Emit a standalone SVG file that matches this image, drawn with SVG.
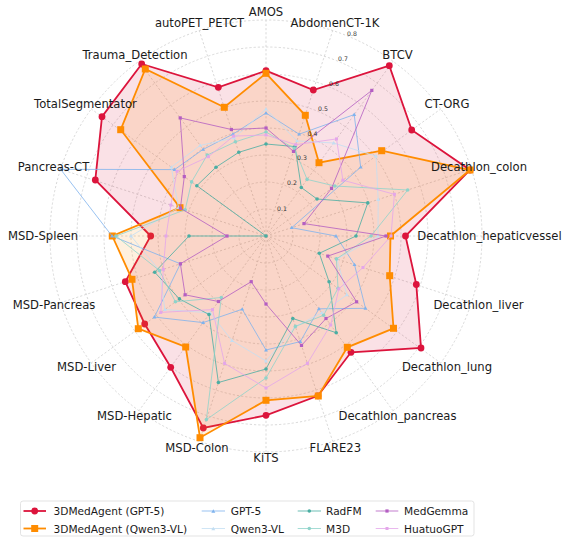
<svg xmlns="http://www.w3.org/2000/svg" width="563" height="540" viewBox="0 0 563 540">
<style>
.grid{fill:none;stroke:#cfcfcf;stroke-width:0.8;stroke-dasharray:2.2 2}
.ax{font-family:"DejaVu Sans",sans-serif;font-size:11.6px;fill:#1a1a1a;text-anchor:middle;dominant-baseline:central}
.tick{font-family:"DejaVu Sans",sans-serif;font-size:6.2px;fill:#333;text-anchor:middle;dominant-baseline:central}
.lg{font-family:"DejaVu Sans",sans-serif;font-size:10.6px;fill:#1a1a1a;dominant-baseline:central}
.main{stroke-width:1.8;stroke-linejoin:miter}
.minor{fill:none;stroke-width:1;stroke-opacity:0.8}
</style>
<defs>
<marker id="mRed" markerUnits="userSpaceOnUse" markerWidth="10" markerHeight="10" viewBox="0 0 10 10" refX="5" refY="5" overflow="visible"><circle cx="5" cy="5" r="3.4" fill="#DC143C"/></marker>
<marker id="mOr" markerUnits="userSpaceOnUse" markerWidth="10" markerHeight="10" viewBox="0 0 10 10" refX="5" refY="5" overflow="visible"><rect x="1.5" y="1.5" width="7" height="7" fill="#FF8C00"/></marker>
<marker id="mG5" markerUnits="userSpaceOnUse" markerWidth="10" markerHeight="10" viewBox="0 0 10 10" refX="5" refY="5" overflow="visible"><polygon points="5,3 7,6.4 3,6.4" fill="#7fb3ee"/></marker>
<marker id="mQw" markerUnits="userSpaceOnUse" markerWidth="10" markerHeight="10" viewBox="0 0 10 10" refX="5" refY="5" overflow="visible"><polygon points="5,3 7,6.4 3,6.4" fill="#c3def2"/></marker>
<marker id="mRad" markerUnits="userSpaceOnUse" markerWidth="10" markerHeight="10" viewBox="0 0 10 10" refX="5" refY="5" overflow="visible"><circle cx="5" cy="5" r="1.8" fill="#4aaea3"/></marker>
<marker id="mM3" markerUnits="userSpaceOnUse" markerWidth="10" markerHeight="10" viewBox="0 0 10 10" refX="5" refY="5" overflow="visible"><circle cx="5" cy="5" r="1.8" fill="#8fd3ca"/></marker>
<marker id="mMG" markerUnits="userSpaceOnUse" markerWidth="10" markerHeight="10" viewBox="0 0 10 10" refX="5" refY="5" overflow="visible"><rect x="3.4" y="3.4" width="3.2" height="3.2" fill="#b45ec2"/></marker>
<marker id="mHu" markerUnits="userSpaceOnUse" markerWidth="10" markerHeight="10" viewBox="0 0 10 10" refX="5" refY="5" overflow="visible"><rect x="3.5" y="3.5" width="3" height="3" fill="#e4a6ea"/></marker>
</defs>
<rect width="563" height="540" fill="#ffffff"/>
<g id="grid">
<circle class="grid" cx="266" cy="236" r="27"/>
<circle class="grid" cx="266" cy="236" r="54"/>
<circle class="grid" cx="266" cy="236" r="81"/>
<circle class="grid" cx="266" cy="236" r="108"/>
<circle class="grid" cx="266" cy="236" r="135"/>
<circle class="grid" cx="266" cy="236" r="162"/>
<circle class="grid" cx="266" cy="236" r="189"/>
<circle class="grid" cx="266" cy="236" r="216"/>
<path class="grid" d="M266,236L266,20M266,236L332.7,30.6M266,236L393,61.3M266,236L440.7,109M266,236L471.4,169.3M266,236L482,236M266,236L471.4,302.7M266,236L440.7,363M266,236L393,410.7M266,236L332.7,441.4M266,236L266,452M266,236L199.3,441.4M266,236L139,410.7M266,236L91.3,363M266,236L60.6,302.7M266,236L50,236M266,236L60.6,169.3M266,236L91.3,109M266,236L139,61.3M266,236L199.3,30.6"/>
</g>
<g id="series">
<polygon id="s-agent-gpt5" class="main" fill="#DC143C" fill-opacity="0.13" stroke="#DC143C" marker-start="url(#mRed)" marker-mid="url(#mRed)" points="266,70.7 313.3,90 389.3,65.7 411.7,130 470,170 405.5,236 416.3,284.5 421,348 351,352.3 317.9,395.8 266,415.3 203.3,428 170.7,367.3 144.7,324 125.3,281.7 150.7,236 95.3,180 102,116.7 141.7,64 218.3,87.3"/>
<polygon id="s-agent-qwen" class="main" fill="#FF8C00" fill-opacity="0.13" stroke="#FF8C00" marker-start="url(#mOr)" marker-mid="url(#mOr)" points="266,73.3 305.3,115.3 319,162.7 381.7,150.7 470,170 390.5,236 389.7,275.7 393.5,328.3 347.3,347.3 318.3,396 266,400.3 200,437.7 185.7,347 138.3,328.7 132,279.3 112.3,236 180,207.7 120.7,129.7 145.3,69 224.3,107.3"/>
<polygon id="s-gpt5" class="minor" stroke="#7fb3ee" marker-start="url(#mG5)" marker-mid="url(#mG5)" points="266,113 299.1,134.2 354.2,114.6 360.7,167.2 291.7,227.7 336,236 354.5,264.7 365.5,308.3 318.9,308.8 300.3,341.6 266,350 242.2,309.2 203.1,322.6 154.4,317.1 180.4,263.8 112,236 60.6,169.3 174.6,169.6 203.1,149.4 232.9,134.2"/>
<polygon id="s-qwen" class="minor" stroke="#c3def2" marker-start="url(#mQw)" marker-mid="url(#mQw)" points="266,109 296.9,140.9 333.6,143 376,156.1 378.2,199.5 378,236 336.9,259 346.9,294.8 321.8,312.9 295.4,326.4 266,361 232,340.6 210.2,312.9 164.9,309.5 159.5,270.6 131,236 178.5,207.6 171.3,167.2 200.2,145.4 234.2,138"/>
<polygon id="s-radfm" class="minor" stroke="#4aaea3" marker-start="url(#mRad)" marker-mid="url(#mRad)" points="266,144 295,146.6 301.3,187.5 317,199 367.8,202.9 356,236 319.3,253.3 329.1,281.8 336.2,332.7 292.8,318.5 266,369 218.4,382.5 209,314.5 179.4,298.9 154.7,272.2 189,236 266,236 196.8,185.7 216,167.2 238.8,152.3"/>
<polygon id="s-m3d" class="minor" stroke="#8fd3ca" marker-start="url(#mM3)" marker-mid="url(#mM3)" points="266,132 294.4,148.5 307.1,179.4 334.8,186 407.7,190 371,236 336.4,258.9 338,288.3 323.6,315.3 295.4,326.4 266,378 206.4,419.6 221.3,297.5 175.4,301.8 159.5,270.6 116,236 185.2,209.7 191.6,181.9 207.2,155.1 235.4,141.8"/>
<polygon id="s-medgemma" class="minor" stroke="#b45ec2" marker-start="url(#mMG)" marker-mid="url(#mMG)" points="266,128 293.5,151.4 371.8,90.4 331.5,188.4 304,223.6 386,236 327.8,256.1 356.6,301.8 326,318.5 301.5,345.4 266,304 251.2,281.7 218.4,301.5 185.1,294.8 180.4,263.8 227,236 180.4,208.2 184.3,176.6 180.2,117.9 231.4,129.5"/>
<polygon id="s-huatuo" class="minor" stroke="#e4a6ea" marker-start="url(#mHu)" marker-mid="url(#mHu)" points="266,135 295.7,144.7 336.5,138.9 342.9,180.2 394.4,194.3 391,236 363,267.5 338.8,288.9 330.7,325 307.4,363.4 266,388 224.6,363.4 212.5,309.6 160.8,312.4 163.3,269.4 166,236 170.9,205.1 177,171.3 208.4,156.7 233.6,136.1"/>
</g>
<g id="ticks">
<text class="tick" x="282" y="208">0.1</text>
<text class="tick" x="292" y="182.5">0.2</text>
<text class="tick" x="302" y="157.5">0.3</text>
<text class="tick" x="312.5" y="133">0.4</text>
<text class="tick" x="323" y="108">0.5</text>
<text class="tick" x="334" y="83">0.6</text>
<text class="tick" x="343" y="58">0.7</text>
<text class="tick" x="352" y="33">0.8</text>
</g>
<g id="axis-labels">
<text class="ax" x="266" y="12">AMOS</text>
<text class="ax" x="335" y="23">AbdomenCT-1K</text>
<text class="ax" x="397.5" y="55">BTCV</text>
<text class="ax" x="447" y="103.5">CT-ORG</text>
<text class="ax" x="479" y="166.5">Decathlon_colon</text>
<text class="ax" x="489.5" y="235.5">Decathlon_hepaticvessel</text>
<text class="ax" x="478.5" y="304.5">Decathlon_liver</text>
<text class="ax" x="447" y="367">Decathlon_lung</text>
<text class="ax" x="397.5" y="416">Decathlon_pancreas</text>
<text class="ax" x="335.3" y="447.5">FLARE23</text>
<text class="ax" x="266" y="458">KiTS</text>
<text class="ax" x="197" y="447.5">MSD-Colon</text>
<text class="ax" x="134.5" y="416">MSD-Hepatic</text>
<text class="ax" x="86.5" y="367">MSD-Liver</text>
<text class="ax" x="54" y="304.5">MSD-Pancreas</text>
<text class="ax" x="43" y="235.5">MSD-Spleen</text>
<text class="ax" x="53.5" y="166.5">Pancreas-CT</text>
<text class="ax" x="85.5" y="103.5">TotalSegmentator</text>
<text class="ax" x="135" y="55">Trauma_Detection</text>
<text class="ax" x="199.5" y="23">autoPET_PETCT</text>
</g>
<g id="legend">
<rect x="20.5" y="501" width="453.5" height="35" rx="2.5" fill="#ffffff" fill-opacity="0.8" stroke="#dcdcdc" stroke-width="0.8"/>
<path d="M23.5,511H46" stroke="#DC143C" stroke-width="1.8" marker-mid="url(#mRed)" marker-start="none"/>
<circle cx="34.7" cy="511" r="3.4" fill="#DC143C"/>
<text class="lg" x="53.5" y="511">3DMedAgent (GPT-5)</text>
<path d="M23.5,528.5H46" stroke="#FF8C00" stroke-width="1.8"/>
<rect x="31.2" y="525" width="7" height="7" fill="#FF8C00"/>
<text class="lg" x="53.5" y="528.5">3DMedAgent (Qwen3-VL)</text>
<path d="M201.7,511H225" stroke="#7fb3ee" stroke-width="1" stroke-opacity="0.8"/>
<polygon points="213.3,509.3 215.3,512.7 211.3,512.7" fill="#7fb3ee"/>
<text class="lg" x="230.7" y="511">GPT-5</text>
<path d="M201.7,528.5H225" stroke="#c3def2" stroke-width="1" stroke-opacity="0.8"/>
<polygon points="213.3,526.8 215.3,530.2 211.3,530.2" fill="#c3def2"/>
<text class="lg" x="230.7" y="528.5">Qwen3-VL</text>
<path d="M297.7,511H321" stroke="#4aaea3" stroke-width="1" stroke-opacity="0.8"/>
<circle cx="309.3" cy="511" r="1.8" fill="#4aaea3"/>
<text class="lg" x="326" y="511">RadFM</text>
<path d="M297.7,528.5H321" stroke="#8fd3ca" stroke-width="1" stroke-opacity="0.8"/>
<circle cx="309.3" cy="528.5" r="1.8" fill="#8fd3ca"/>
<text class="lg" x="326" y="528.5">M3D</text>
<path d="M375.7,511H398.3" stroke="#b45ec2" stroke-width="1" stroke-opacity="0.8"/>
<rect x="385.4" y="509.4" width="3.2" height="3.2" fill="#b45ec2"/>
<text class="lg" x="404" y="511">MedGemma</text>
<path d="M375.7,528.5H398.3" stroke="#e4a6ea" stroke-width="1" stroke-opacity="0.8"/>
<rect x="385.5" y="527" width="3" height="3" fill="#e4a6ea"/>
<text class="lg" x="404" y="528.5">HuatuoGPT</text>
</g>
</svg>
